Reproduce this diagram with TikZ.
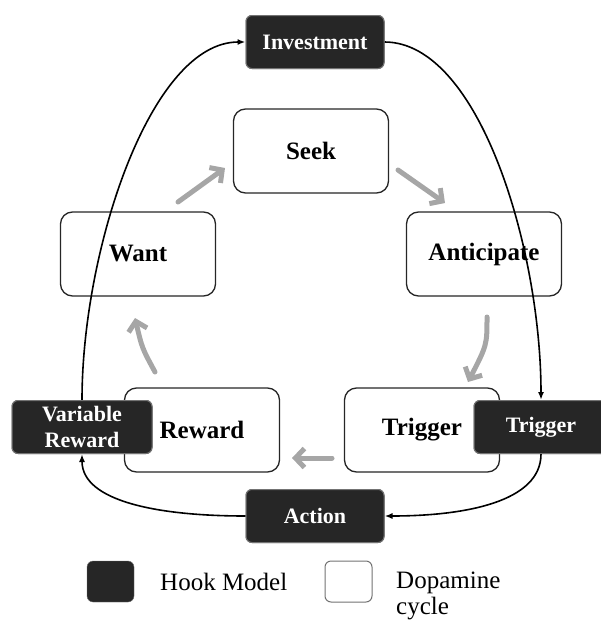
\documentclass[tikz,border=0pt]{standalone}
\usepackage{fontspec}
\setmainfont{Liberation Serif}
\usetikzlibrary{arrows.meta}
\begin{document}
\begin{tikzpicture}[x=1pt,y=-1pt,
  dopa/.style={draw=black!85, line width=1.3pt, rounded corners=12pt, fill=white,
    minimum width=155pt, minimum height=84pt, inner sep=0pt,
    font=\fontsize{25}{27}\selectfont\bfseries},
  hook/.style={draw=black!55, line width=1pt, rounded corners=6pt, fill=black!85,
    text=white, minimum height=53pt, inner sep=0pt, align=center,
    font=\fontsize{22}{26}\selectfont\bfseries},
  link/.style={line width=1.6pt, -{Latex[length=8pt,width=6pt]}},
  flow/.style={line width=5pt, draw=black!35, line cap=round,
    -{Straight Barb[length=9pt,width=19pt,line width=5pt]}},
  legtext/.style={font=\fontsize{25}{26}\selectfont, inner sep=0pt, align=left},
]
\useasboundingbox (0,0) rectangle (600,621);

% dopamine cycle
\node[dopa] (seek) at (311,151) {Seek};
\node[dopa] (want) at (138,254) {Want};
\node[dopa] (anti) at (484,254) {Anticipate};
\node[dopa] (rew)  at (202,430) {Reward};
\node[dopa] (trw)  at (422,430) {Trigger};

% gray flow arrows
\coordinate (f1a) at (178,202); \coordinate (f1b) at (225,168);
\coordinate (f2a) at (398,170); \coordinate (f2b) at (445,203);
\coordinate (f3a) at (487,317); \coordinate (f3b) at (468,382);
\coordinate (f4a) at (332,458); \coordinate (f4b) at (292,458);
\coordinate (f5a) at (155,372); \coordinate (f5b) at (135,318);
\draw[flow] (f1a) -- (f1b);
\draw[flow] (f2a) -- (f2b);
\draw[flow] (f3a) .. controls (487,345) .. (f3b);
\draw[flow] (f4a) -- (f4b);
\draw[flow] (f5a) .. controls (142,348) .. (f5b);

% hook model boxes (positions)
\node[hook, minimum width=138pt] (inv) at (315,42) {Investment};
\node[hook, minimum width=140pt] (vr)  at (82,427) {Variable\\Reward};
\node[hook, minimum width=134pt] (trb) at (541,427) {Trigger};
\node[hook, minimum width=138pt] (act) at (315,516) {Action};

% hook connectors
\draw[link] (vr.north) .. controls +(0,-150) and +(-95,0) .. (inv.west);
\draw[link] (inv.east) .. controls +(95,0) and +(0,-150) .. (trb.north);
\draw[link] (trb.south) .. controls +(0,48) and +(80,0) .. (act.east);
\draw[link] (act.west) .. controls +(-85,0) and +(0,48) .. (vr.south);

% redraw hook boxes on top
\node[hook, minimum width=138pt] at (inv) {Investment};
\node[hook, minimum width=140pt] at (vr) {Variable\\Reward};
\node[hook, minimum width=134pt] at (trb) {Trigger};
\node[hook, minimum width=138pt] at (act) {Action};

% legend
\node[draw=black!55, fill=black!85, rounded corners=6pt, minimum width=47pt,
  minimum height=41pt, inner sep=0pt] (lh) at (110.5,581.5) {};
\node[draw=black!55, line width=1pt, fill=white, rounded corners=6pt, minimum width=47pt,
  minimum height=41pt, inner sep=0pt] (ld) at (348.5,581.5) {};
\node[legtext, anchor=base west] (lht) at (160,590) {Hook Model};
\node[legtext, anchor=north west] (ldt) at (396,572) {Dopamine\\cycle};
\end{tikzpicture}
\end{document}
